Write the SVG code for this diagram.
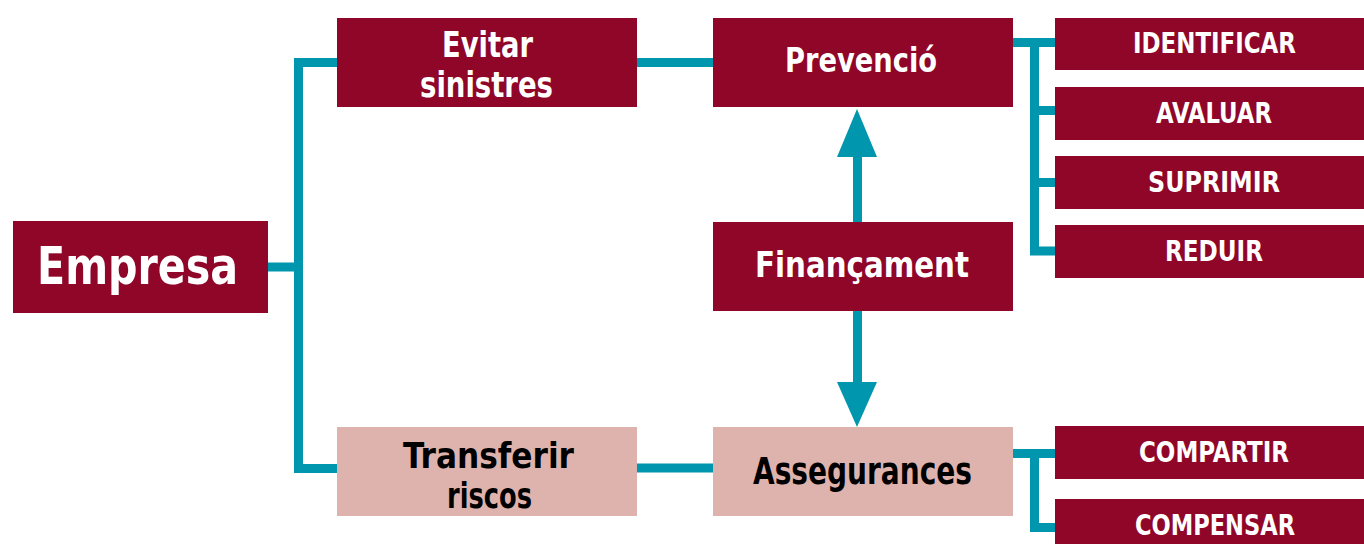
<svg xmlns="http://www.w3.org/2000/svg" width="1364" height="544" viewBox="0 0 1364 544">
<style>
.dk{fill:#8f0629}
.pk{fill:#dfb3ad}
.ln{fill:none;stroke:#0096ad;stroke-width:9;stroke-linejoin:miter;stroke-linecap:butt}
.ah{fill:#0096ad}
text{font-family:"DejaVu Sans Condensed","DejaVu Sans",sans-serif;font-weight:bold}
.w{fill:#ffffff}
.b{fill:#000000}
</style>
<rect width="1364" height="544" fill="#ffffff"/>
<g id="connectors">
<path class="ln" d="M337,62.5 H298.5 V468.5 H337"/>
<path class="ln" d="M268,267 H298.5"/>
<path class="ln" d="M637,62.5 H713"/>
<path class="ln" d="M637,468 H713"/>
<path class="ln" d="M1013,42.5 H1055 M1034.5,42.5 V251 H1055 M1034.5,110.5 H1055 M1034.5,182.5 H1055"/>
<path class="ln" d="M1013,453.5 H1055 M1034.5,453.5 V527.5 H1055"/>
<path class="ln" d="M857.5,157 V222"/>
<polygon class="ah" points="837,157 877,157 857,109"/>
<path class="ln" d="M857.5,311 V382"/>
<polygon class="ah" points="837,382 877,382 857,427"/>
</g>
<g id="empresa">
<rect class="dk" x="13" y="221" width="255" height="92"/>
<text class="w" x="37" y="284" font-size="51" textLength="201" lengthAdjust="spacingAndGlyphs">Empresa</text>
</g>
<g id="evitar">
<rect class="dk" x="337" y="18" width="300" height="89"/>
<text class="w" x="442" y="57" font-size="35" textLength="91" lengthAdjust="spacingAndGlyphs">Evitar</text>
<text class="w" x="420" y="97" font-size="35" textLength="133" lengthAdjust="spacingAndGlyphs">sinistres</text>
</g>
<g id="prevencio">
<rect class="dk" x="713" y="18" width="300" height="89"/>
<text class="w" x="785" y="72" font-size="34" textLength="152" lengthAdjust="spacingAndGlyphs">Prevenció</text>
</g>
<g id="financament">
<rect class="dk" x="713" y="222" width="300" height="89"/>
<text class="w" x="755" y="277" font-size="35" textLength="214" lengthAdjust="spacingAndGlyphs">Finançament</text>
</g>
<g id="transferir">
<rect class="pk" x="337" y="427" width="300" height="89"/>
<text class="b" x="403" y="468" font-size="35" textLength="171" lengthAdjust="spacingAndGlyphs">Transferir</text>
<text class="b" x="447" y="508" font-size="35" textLength="85" lengthAdjust="spacingAndGlyphs">riscos</text>
</g>
<g id="assegurances">
<rect class="pk" x="713" y="427" width="300" height="89"/>
<text class="b" x="753" y="484" font-size="38" textLength="219" lengthAdjust="spacingAndGlyphs">Assegurances</text>
</g>
<g id="identificar">
<rect class="dk" x="1055" y="18" width="309" height="52"/>
<text class="w" x="1133" y="53" font-size="29" textLength="163" lengthAdjust="spacingAndGlyphs">IDENTIFICAR</text>
</g>
<g id="avaluar">
<rect class="dk" x="1055" y="87" width="309" height="53"/>
<text class="w" x="1156" y="123" font-size="29" textLength="116" lengthAdjust="spacingAndGlyphs">AVALUAR</text>
</g>
<g id="suprimir">
<rect class="dk" x="1055" y="156" width="309" height="53"/>
<text class="w" x="1148" y="192" font-size="29" textLength="132" lengthAdjust="spacingAndGlyphs">SUPRIMIR</text>
</g>
<g id="reduir">
<rect class="dk" x="1055" y="225" width="309" height="53"/>
<text class="w" x="1165" y="261" font-size="29" textLength="98" lengthAdjust="spacingAndGlyphs">REDUIR</text>
</g>
<g id="compartir">
<rect class="dk" x="1055" y="426" width="309" height="53"/>
<text class="w" x="1139" y="462" font-size="29" textLength="150" lengthAdjust="spacingAndGlyphs">COMPARTIR</text>
</g>
<g id="compensar">
<rect class="dk" x="1055" y="499" width="309" height="45"/>
<text class="w" x="1135" y="535" font-size="29" textLength="160" lengthAdjust="spacingAndGlyphs">COMPENSAR</text>
</g>
</svg>
